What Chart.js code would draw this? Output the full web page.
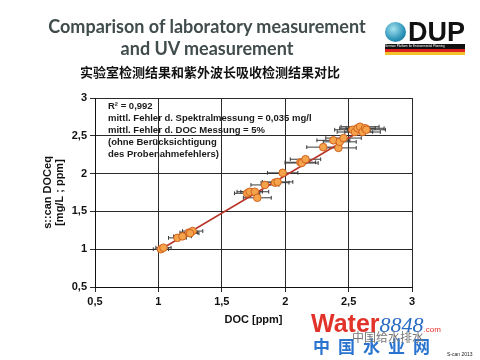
<!DOCTYPE html>
<html>
<head>
<meta charset="utf-8">
<script src="https://cdn.jsdelivr.net/npm/chart.js@4"></script>
<style>
  body { margin: 0; width: 480px; height: 360px; background: #fff; position: relative; overflow: hidden; font-family: "Liberation Sans", Arial, sans-serif; }
  #wrap { position: absolute; left: 0; top: 0; width: 480px; height: 360px; }
  .t1 { position: absolute; left: 0; width: 414px; text-align: center; font-family: Lato, sans-serif; font-weight: bold; color: #414c4c; font-size: 18px; }
  .cn { position: absolute; left: 0; width: 420px; text-align: center; top: 62px; font-family: "Noto Sans CJK SC", sans-serif; font-weight: bold; font-size: 13px; color: #111; }
  .logo { position: absolute; left: 385px; top: 19px; width: 80px; height: 38px; }
  .globe { position: absolute; left: 0; top: 3px; width: 21px; height: 20px; border-radius: 50%; background: radial-gradient(circle at 40% 35%, #a4e2ef, #2b93b8 60%, #0d5f86); }
  .dup { position: absolute; left: 23px; top: -2px; font-family: "Liberation Sans", Arial, sans-serif; font-weight: bold; font-size: 27px; color: #111; }
  .bar1 { position: absolute; left: 0; top: 25px; width: 80px; height: 5px; background: #111; color: #fff; font-size: 3px; line-height: 5px; overflow: hidden; white-space: nowrap; }
  .bar2 { position: absolute; left: 0; top: 30px; width: 80px; height: 3px; background: #d22; }
  .bar3 { position: absolute; left: 0; top: 33px; width: 80px; height: 3px; background: #f3c22a; }
  .wm { position: absolute; left: 311px; top: 309px; font-family: "Liberation Sans", Arial, sans-serif; }
  .wm .w { font-weight: bold; font-size: 25px; color: #e2332b; }
  .wm .n { font-family: "Liberation Serif", serif; font-style: italic; font-size: 22px; color: #2a6cc4; }
  .wm .c { font-size: 8px; color: #e2332b; }
  .wmcn { position: absolute; left: 313px; top: 333px; font-family: "Noto Sans CJK SC", sans-serif; font-weight: bold; font-size: 17px; color: #2a74d0; letter-spacing: 8px; }
  .wx { position: absolute; left: 352px; top: 328px; font-family: "Noto Sans CJK SC", sans-serif; font-size: 12px; color: #777; }
  .sc { position: absolute; left: 447px; top: 351px; font-size: 5px; color: #222; }
</style>
</head>
<body>
<div id="wrap"><canvas id="doc_chart" width="480" height="360"></canvas></div>
<div class="t1" style="top:15px">Comparison of laboratory measurement</div>
<div class="t1" style="top:37px">and UV measurement</div>
<div class="cn">实验室检测结果和紫外波长吸收检测结果对比</div>
<div class="logo">
  <div class="globe"></div>
  <div class="dup">DUP</div>
  <div class="bar1">German Platform for Environmental Planning</div>
  <div class="bar2"></div>
  <div class="bar3"></div>
</div>
<div class="wm"><span class="w">Water</span><span class="n">8848</span><span class="c">.com</span></div>
<div class="wmcn">中国水业网</div>
<div class="wx">中国给水排水</div>
<div class="sc">S-can 2013</div>
<script>
// lab DOC (x), s::can DOCeq (y), horizontal error (ppm)
let doc_lab = [1.02, 1.04, 1.15, 1.19, 1.24, 1.27, 1.25,
    1.70, 1.72, 1.76, 1.78, 1.84, 1.92, 1.94, 1.98,
    2.12, 2.13, 2.16, 2.30, 2.38, 2.42, 2.43, 2.46,
    2.53, 2.55, 2.57, 2.59, 2.61, 2.63, 2.64];
let doc_uv = [1.00, 1.02, 1.15, 1.17, 1.22, 1.24, 1.21,
    1.74, 1.76, 1.76, 1.68, 1.85, 1.88, 1.89, 2.01,
    2.15, 2.14, 2.19, 2.35, 2.44, 2.34, 2.42, 2.47,
    2.58, 2.55, 2.60, 2.62, 2.55, 2.60, 2.58];
let doc_err = [0.06, 0.06, 0.07, 0.07, 0.07, 0.08, 0.07,
    0.10, 0.10, 0.11, 0.11, 0.11, 0.11, 0.12, 0.12,
    0.12, 0.13, 0.12, 0.13, 0.13, 0.14, 0.13, 0.14,
    0.14, 0.14, 0.14, 0.15, 0.14, 0.15, 0.15];

let trend_x = [1.02, 2.66];
let trend_y = [1.00, 2.63];

let x_tick_labels = ['0,5', '1', '1,5', '2', '2,5', '3'];
let y_tick_labels = ['0,5', '1', '1,5', '2', '2,5', '3'];

let note_lines = [
    'R\u00B2 = 0,992',
    'mittl. Fehler d. Spektralmessung = 0,035 mg/l',
    'mittl. Fehler d. DOC Messung = 5%',
    '(ohne Ber\u00FCcksichtigung',
    'des Probenahmefehlers)'
];

// error bars as broken line segments (with small caps)
const cap = 0.025;
const err_points = [];
for (let i = 0; i < doc_lab.length; i++) {
    const lo = doc_lab[i] - doc_err[i], hi = doc_lab[i] + doc_err[i], y = doc_uv[i];
    err_points.push({x: lo, y: y}, {x: hi, y: y}, {x: hi, y: null});
    err_points.push({x: lo, y: y - cap}, {x: lo, y: y + cap}, {x: lo, y: null});
    err_points.push({x: hi, y: y - cap}, {x: hi, y: y + cap}, {x: hi, y: null});
}

const noteText = {
    id: 'noteText',
    afterDraw(chart) {
        const ctx = chart.ctx;
        const a = chart.chartArea;
        ctx.save();
        ctx.fillStyle = '#1a1a1a';
        ctx.font = 'bold 9.5px "Liberation Sans", Arial, sans-serif';
        ctx.textBaseline = 'middle';
        note_lines.forEach((t, i) => {
            ctx.fillText(t, a.left + 13, a.top + 8 + i * 12.2);
        });
        ctx.restore();
    }
};

const doc_data = {
    datasets: [{
        type: 'scatter',
        data: doc_lab.map((x, i) => ({x: x, y: doc_uv[i]})),
        backgroundColor: '#f6a44c',
        borderColor: '#d0621e',
        borderWidth: 1,
        pointRadius: 3.8,
        order: 1
    }, {
        type: 'line',
        data: trend_x.map((x, i) => ({x: x, y: trend_y[i]})),
        borderColor: '#b8352a',
        borderWidth: 1.6,
        pointRadius: 0,
        fill: false,
        order: 2
    }, {
        type: 'line',
        data: err_points,
        borderColor: '#3a3a3a',
        borderWidth: 1,
        pointRadius: 0,
        spanGaps: false,
        fill: false,
        order: 3
    }]
};

const doc_config = {
    type: 'scatter',
    data: doc_data,
    options: {
        responsive: false,
        animation: false,
        events: [],
        layout: {
            padding: {left: 42, top: 98, right: 68, bottom: 33}
        },
        plugins: {
            legend: {display: false},
            tooltip: {enabled: false}
        },
        scales: {
            x: {
                type: 'linear',
                min: 0.5,
                max: 3,
                ticks: {
                    stepSize: 0.5,
                    color: '#111',
                    font: {family: 'Liberation Sans', weight: 'bold', size: 11},
                    padding: 3,
                    callback: (v, i) => x_tick_labels[i]
                },
                grid: {color: '#2a2a2a', lineWidth: 1, tickLength: 5},
                border: {color: '#111', width: 1},
                title: {
                    display: true,
                    text: 'DOC [ppm]',
                    color: '#111',
                    font: {family: 'Liberation Sans', weight: 'bold', size: 11},
                    padding: {top: 0, bottom: 0}
                },
                afterFit: (s) => { s.height = 40; }
            },
            y: {
                type: 'linear',
                min: 0.5,
                max: 3,
                ticks: {
                    stepSize: 0.5,
                    color: '#111',
                    font: {family: 'Liberation Sans', weight: 'bold', size: 11},
                    padding: 3,
                    callback: (v, i) => y_tick_labels[i]
                },
                grid: {color: '#2a2a2a', lineWidth: 1, tickLength: 5},
                border: {color: '#111', width: 1},
                title: {
                    display: true,
                    text: ['s::can DOCeq', '[mg/L ; ppm]'],
                    color: '#111',
                    font: {family: 'Liberation Sans', weight: 'bold', size: 11, lineHeight: 1.1},
                    padding: {top: 0, bottom: 4}
                },
                afterFit: (s) => { s.width = 53; }
            }
        }
    },
    plugins: [noteText]
};

const doc_chart = new Chart(
    document.getElementById('doc_chart'),
    doc_config
);
</script>
</body>
</html>
